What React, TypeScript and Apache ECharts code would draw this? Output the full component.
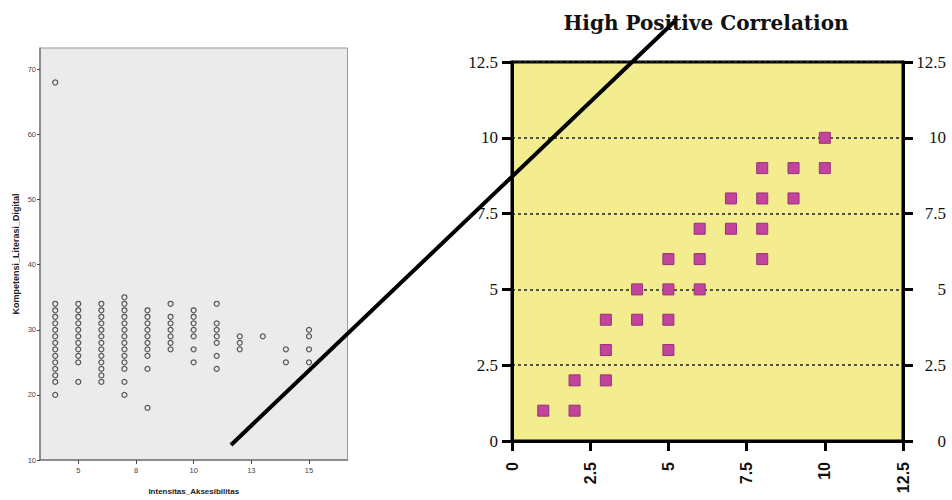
import React, { useEffect, useRef } from "react";
import * as echarts from "echarts";

// ---- Left chart (SPSS scatter) ----
const leftColumns = [4, 5, 6, 7, 8, 9, 10, 11, 12, 13, 14, 15];
const leftValues: number[][] = [
  [20, 22, 23, 24, 25, 26, 27, 28, 29, 30, 31, 32, 33, 34, 68],
  [22, 25, 26, 27, 28, 29, 30, 31, 32, 33, 34],
  [22, 23, 24, 25, 26, 27, 28, 29, 30, 31, 32, 33, 34],
  [20, 22, 24, 25, 26, 27, 28, 29, 30, 31, 32, 33, 34, 35],
  [18, 24, 26, 27, 28, 29, 30, 31, 32, 33],
  [27, 28, 29, 30, 31, 32, 34],
  [25, 27, 29, 30, 31, 32, 33],
  [24, 26, 28, 29, 30, 31, 34],
  [27, 28, 29],
  [29],
  [25, 27],
  [25, 27, 29, 30],
];
const leftXTicks = [5, 7.5, 10, 12.5, 15];
const leftYTicks = [10, 20, 30, 40, 50, 60, 70];

// ---- Right chart (High Positive Correlation) ----
const rightX = [1, 2, 2, 3, 3, 3, 4, 4, 5, 5, 5, 5, 6, 6, 6, 7, 7, 8, 8, 8, 8, 9, 9, 10, 10];
const rightY = [1, 1, 2, 2, 3, 4, 4, 5, 3, 4, 5, 6, 5, 6, 7, 7, 8, 6, 7, 8, 9, 8, 9, 9, 10];

export default function App() {
  const ref = useRef<HTMLDivElement>(null);

  useEffect(() => {
    if (!ref.current) return;
    const chart = echarts.init(ref.current, null, { renderer: "svg" });

    const leftData: number[][] = [];
    leftColumns.forEach((x, i) => {
      leftValues[i].forEach((y) => leftData.push([x, y]));
    });
    const rightData = rightX.map((x, i) => [x, rightY[i]]);

    const rightYAxisBase = {
      type: "value",
      gridIndex: 1,
      min: 0,
      max: 12.5,
      interval: 2.5,
      axisLine: { show: true, lineStyle: { color: "#000", width: 3 } },
      axisTick: { show: true, length: 10, lineStyle: { color: "#000", width: 3 } },
    };

    chart.setOption({
      animation: false,
      backgroundColor: "#fff",
      grid: [
        {
          left: 40,
          top: 48,
          width: 307.5,
          height: 413,
          show: true,
          backgroundColor: "#ebebeb",
          borderColor: "#9a9a9a",
          borderWidth: 1,
        },
        {
          left: 512,
          top: 62,
          width: 391,
          height: 379,
          show: true,
          backgroundColor: "#f3ed8f",
          borderColor: "#000",
          borderWidth: 3,
        },
      ],
      xAxis: [
        {
          type: "value",
          gridIndex: 0,
          min: 3.34,
          max: 16.67,
          name: "Intensitas_Aksesibilitas",
          nameLocation: "middle",
          nameGap: 27,
          nameTextStyle: { fontFamily: "Liberation Sans", fontWeight: "bold", fontSize: 8, color: "#222" },
          axisLine: { show: true, lineStyle: { color: "#7a7a7a", width: 1.5 } },
          axisTick: { show: true, length: 4, customValues: leftXTicks, lineStyle: { color: "#444" } },
          axisLabel: {
            customValues: leftXTicks,
            formatter: (v: number) => String(Math.round(v)),
            fontSize: 7.5,
            color: "#444",
            margin: 6,
            fontFamily: "Liberation Sans",
          },
          splitLine: { show: false },
        },
        {
          type: "value",
          gridIndex: 1,
          min: 0,
          max: 12.5,
          interval: 2.5,
          axisLine: { show: true, lineStyle: { color: "#000", width: 3 } },
          axisTick: { show: true, length: 10, lineStyle: { color: "#000", width: 3 } },
          axisLabel: {
            rotate: 90,
            fontSize: 16,
            fontWeight: "bold",
            fontFamily: "Liberation Sans",
            color: "#111",
            margin: 21,
          },
          splitLine: { show: false },
        },
      ],
      yAxis: [
        {
          type: "value",
          gridIndex: 0,
          min: 10,
          max: 73.3,
          name: "Kompetensi_Literasi_Digital",
          nameLocation: "middle",
          nameGap: 20,
          nameRotate: 90,
          nameTextStyle: { fontFamily: "Liberation Sans", fontWeight: "bold", fontSize: 9, color: "#222" },
          axisLine: { show: true, lineStyle: { color: "#7a7a7a", width: 1.5 } },
          axisTick: { show: true, length: 3, customValues: leftYTicks, lineStyle: { color: "#444" } },
          axisLabel: {
            customValues: leftYTicks,
            fontSize: 7.5,
            color: "#444",
            margin: 4,
            fontFamily: "Liberation Sans",
          },
          splitLine: { show: false },
        },
        {
          ...rightYAxisBase,
          position: "left",
          axisLabel: { fontSize: 17, fontFamily: "Liberation Serif", color: "#111", margin: 14 },
          splitLine: { show: true, lineStyle: { type: [3, 3], color: "#222", width: 1.5 } },
        },
        {
          ...rightYAxisBase,
          position: "right",
          axisLabel: { fontSize: 17, fontFamily: "Liberation Serif", color: "#111", margin: 43, align: "right" },
          splitLine: { show: false },
        },
      ],
      series: [
        {
          type: "scatter",
          xAxisIndex: 0,
          yAxisIndex: 0,
          symbol: "circle",
          symbolSize: 5,
          itemStyle: { color: "rgba(0,0,0,0)", borderColor: "#555", borderWidth: 1.2, opacity: 1 },
          data: leftData,
        },
        {
          type: "scatter",
          xAxisIndex: 1,
          yAxisIndex: 1,
          symbol: "rect",
          symbolSize: 11,
          itemStyle: { color: "#c2449c", borderColor: "#98307c", borderWidth: 1, opacity: 1 },
          data: rightData,
        },
      ],
      graphic: [
        {
          type: "text",
          z: 50,
          style: {
            x: 706,
            y: 23,
            text: "High Positive Correlation",
            align: "center",
            verticalAlign: "middle",
            fontFamily: "DejaVu Serif",
            fontWeight: "bold",
            fontSize: 20,
            fill: "#111",
          },
        },
        {
          type: "line",
          z: 100,
          shape: { x1: 231, y1: 445, x2: 675, y2: 21 },
          style: { stroke: "#000", lineWidth: 4 },
        },
      ],
    });

    return () => chart.dispose();
  }, []);

  return (
    <div
      ref={ref}
      style={{ position: "absolute", left: 0, top: 0, width: 952, height: 500 }}
    />
  );
}
